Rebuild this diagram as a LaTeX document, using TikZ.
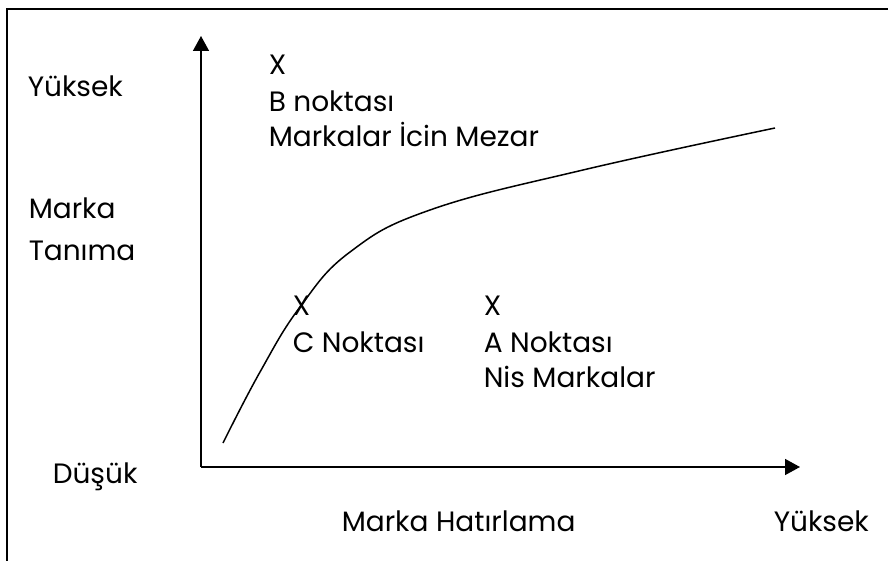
\documentclass[tikz,border=0pt]{standalone}
\usepackage{fontspec}
\setmainfont{Poppins}
\usepackage{tikz}
\usetikzlibrary{arrows.meta}
\tikzset{lbl/.style={anchor=base west, inner sep=0pt, font=\fontsize{28}{33}\selectfont}}

\begin{document}
\begin{tikzpicture}[x=1pt, y=-1pt, line width=1.5pt]
\useasboundingbox (0,0) rectangle (888,561);
\draw (888,9) -- (7,9) -- (7,561);
\coordinate (O) at (201,467);
\coordinate (yTip) at (201,36);
\coordinate (xTip) at (800,467);
\draw[-{Triangle[length=15pt,width=16pt]}] (O) -- (yTip);
\draw[-{Triangle[length=15pt,width=16pt]}] (O) -- (xTip);
\draw plot[smooth, tension=0.7] coordinates {(223,443) (260,372) (300,307) (350,252) (430,210) (583,170) (775,128)};
\node[lbl] (yHigh) at (27,97) {Yüksek};
\node[lbl] (yMarka) at (28,219) {Marka};
\node[lbl] (yTanima) at (28,260) {Tanıma};
\node[lbl] (yLow) at (52,483) {Düşük};
\node[lbl] (xLabel) at (341,531) {Marka Hatırlama};
\node[lbl] (xHigh) at (773,531) {Yüksek};
\node[lbl] (bX) at (268,75) {X};
\node[lbl] (bName) at (268,112) {B noktası};
\node[lbl] (bDesc) at (268,147) {Markalar İcin Mezar};
\node[lbl] (cX) at (292,315) {X};
\node[lbl] (cName) at (292,352) {C Noktası};
\node[lbl] (aX) at (483,315) {X};
\node[lbl] (aName) at (483,352) {A Noktası};
\node[lbl] (aDesc) at (483,387) {Nis Markalar};
\end{tikzpicture}
\end{document}
